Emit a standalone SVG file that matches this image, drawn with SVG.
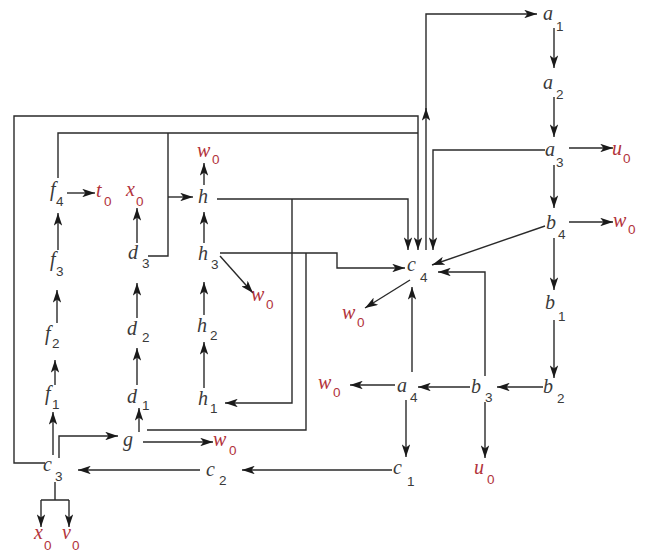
<svg xmlns="http://www.w3.org/2000/svg" width="646" height="552" viewBox="0 0 646 552">
<defs>
<marker id="ah" viewBox="0 0 12 8" refX="12" refY="4" markerWidth="13" markerHeight="8.5" markerUnits="userSpaceOnUse" orient="auto">
<path d="M0,0 L12,4 L0,8 L3,4 z" fill="#1a1a1a"/>
</marker>
<style>
.e{fill:none;stroke:#2a2a2a;stroke-width:1.4}
.a{marker-end:url(#ah)}
.n{font-family:"Liberation Serif",serif;font-style:italic;font-size:20px;fill:#3a3a3a}
.s{font-family:"Liberation Sans",sans-serif;font-size:13.5px;fill:#3a3a3a}
.r .n,.r .s{fill:#b2333b}
</style>
</defs>
<rect width="646" height="552" fill="#fff"/>
<g id="connectors">
<path class="e a" d="M554,28 V68"/>
<path class="e a" d="M554,97 V137"/>
<path class="e a" d="M554,165 V208"/>
<path class="e a" d="M554,238 V290"/>
<path class="e a" d="M554,320 V378"/>
<path class="e a" d="M569,148 H613"/>
<path class="e a" d="M569,222 H613"/>
<path class="e a" d="M543,387 H497"/>
<path class="e a" d="M470,387 H418"/>
<path class="e a" d="M395,385 H350"/>
<path class="e a" d="M406,400 V457"/>
<path class="e a" d="M412,372 V287"/>
<path class="e a" d="M485,402 V458"/>
<path class="e a" d="M485,376 V272 H438"/>
<path class="e a" d="M392,470 H242"/>
<path class="e a" d="M200,470 H78"/>
<path class="e a" d="M410,280 L365,308"/>
<path class="e a" d="M545,226 L432,265"/>
<path class="e a" d="M545,150 H433 V250"/>
<path class="e a" d="M426,250 V108"/>
<path class="e a" d="M426,110 V14 H537"/>
<path class="e a" d="M45,463 H14 V116 H418 V250"/>
<path class="e" d="M58,178 V133 H418"/>
<path class="e" d="M148,256 H168 V133"/>
<path class="e a" d="M168,197 H193"/>
<path class="e a" d="M217,199 H408 V250"/>
<path class="e a" d="M292,199 V403 H225"/>
<path class="e a" d="M220,253 H337 V268 H405"/>
<path class="e" d="M306,253 V430 H147"/>
<path class="e a" d="M220,256 L253,293"/>
<path class="e a" d="M204,185 V163"/>
<path class="e a" d="M204,243 V212"/>
<path class="e a" d="M204,315 V282"/>
<path class="e a" d="M204,388 V342"/>
<path class="e a" d="M137,385 V348"/>
<path class="e a" d="M137,318 V283"/>
<path class="e a" d="M137,243 V208"/>
<path class="e a" d="M55,385 V360"/>
<path class="e a" d="M57,323 V290"/>
<path class="e a" d="M58,250 V213"/>
<path class="e a" d="M67,193 H95"/>
<path class="e a" d="M53,455 V412"/>
<path class="e a" d="M59,458 V436 H118"/>
<path class="e a" d="M139,432 V408"/>
<path class="e a" d="M143,442 H213"/>
<path class="e" d="M55,482 V500 M41,500 H69"/>
<path class="e a" d="M41,500 V527"/>
<path class="e a" d="M69,500 V527"/>
</g>
<g id="a1"><text class="n" x="543" y="20">a</text><text class="s" x="556" y="31">1</text></g>
<g id="a2"><text class="n" x="543" y="89">a</text><text class="s" x="556" y="99">2</text></g>
<g id="a3"><text class="n" x="545" y="156">a</text><text class="s" x="556" y="167">3</text></g>
<g id="u0a" class="r"><text class="n" x="612" y="155">u</text><text class="s" x="623" y="163">0</text></g>
<g id="b4"><text class="n" x="546" y="229">b</text><text class="s" x="558" y="239">4</text></g>
<g id="w0b" class="r"><text class="n" x="613" y="227">w</text><text class="s" x="628" y="234">0</text></g>
<g id="b1"><text class="n" x="545" y="309">b</text><text class="s" x="558" y="321">1</text></g>
<g id="b2"><text class="n" x="543" y="393">b</text><text class="s" x="557" y="403">2</text></g>
<g id="b3"><text class="n" x="471" y="393">b</text><text class="s" x="485" y="402">3</text></g>
<g id="a4"><text class="n" x="397" y="392">a</text><text class="s" x="410" y="402">4</text></g>
<g id="w0c" class="r"><text class="n" x="318" y="389">w</text><text class="s" x="333" y="397">0</text></g>
<g id="c4"><text class="n" x="407" y="271">c</text><text class="s" x="420" y="282">4</text></g>
<g id="w0d" class="r"><text class="n" x="342" y="319">w</text><text class="s" x="357" y="327">0</text></g>
<g id="c1"><text class="n" x="393" y="474">c</text><text class="s" x="407" y="486">1</text></g>
<g id="u0b" class="r"><text class="n" x="474" y="474">u</text><text class="s" x="487" y="484">0</text></g>
<g id="c2"><text class="n" x="206" y="476">c</text><text class="s" x="219" y="485">2</text></g>
<g id="c3"><text class="n" x="43" y="471">c</text><text class="s" x="55" y="481">3</text></g>
<g id="x0b" class="r"><text class="n" x="34" y="539">x</text><text class="s" x="44" y="550">0</text></g>
<g id="v0" class="r"><text class="n" x="62" y="539">v</text><text class="s" x="72" y="550">0</text></g>
<g id="g"><text class="n" x="123" y="446">g</text></g>
<g id="w0g" class="r"><text class="n" x="213" y="446">w</text><text class="s" x="229" y="455">0</text></g>
<g id="d1"><text class="n" x="127" y="403">d</text><text class="s" x="142" y="410">1</text></g>
<g id="h1"><text class="n" x="198" y="405">h</text><text class="s" x="210" y="413">1</text></g>
<g id="d2"><text class="n" x="127" y="335">d</text><text class="s" x="142" y="342">2</text></g>
<g id="h2"><text class="n" x="197" y="332">h</text><text class="s" x="210" y="340">2</text></g>
<g id="f1"><text class="n" x="45" y="400">f</text><text class="s" x="52" y="409">1</text></g>
<g id="f2"><text class="n" x="45" y="340">f</text><text class="s" x="52" y="348">2</text></g>
<g id="f3"><text class="n" x="50" y="266">f</text><text class="s" x="56" y="276">3</text></g>
<g id="f4"><text class="n" x="50" y="196">f</text><text class="s" x="56" y="206">4</text></g>
<g id="t0" class="r"><text class="n" x="96" y="197">t</text><text class="s" x="104" y="206">0</text></g>
<g id="x0a" class="r"><text class="n" x="126" y="196">x</text><text class="s" x="136" y="206">0</text></g>
<g id="d3"><text class="n" x="128" y="259">d</text><text class="s" x="142" y="268">3</text></g>
<g id="h"><text class="n" x="198" y="203">h</text></g>
<g id="w0a" class="r"><text class="n" x="197" y="157">w</text><text class="s" x="212" y="164">0</text></g>
<g id="h3"><text class="n" x="198" y="260">h</text><text class="s" x="211" y="269">3</text></g>
<g id="w0h" class="r"><text class="n" x="251" y="301">w</text><text class="s" x="266" y="309">0</text></g>
</svg>
